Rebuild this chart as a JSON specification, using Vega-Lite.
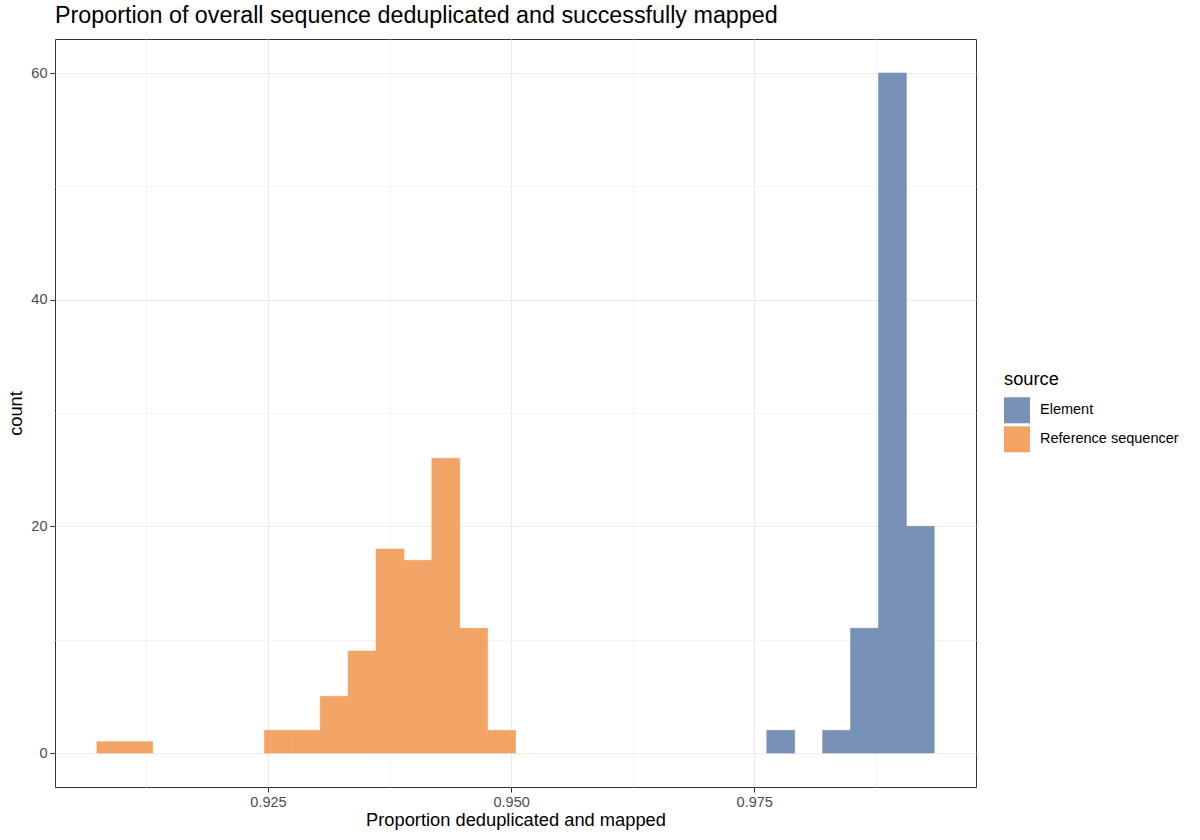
{
  "$schema": "https://vega.github.io/schema/vega-lite/v6.json",
  "width": 921,
  "height": 748,
  "autosize": "none",
  "padding": {"left": 55, "top": 39, "right": 224, "bottom": 53},
  "background": "white",
  "title": {
    "text": "Proportion of overall sequence deduplicated and successfully mapped",
    "anchor": "start",
    "frame": "group",
    "font": "Liberation Sans",
    "fontSize": 23.3,
    "fontWeight": "normal",
    "color": "black",
    "offset": 11
  },
  "data": {
    "values": [
      {"source": "Reference sequencer", "start": 0.90741, "end": 0.91028, "count": 1},
      {"source": "Reference sequencer", "start": 0.91028, "end": 0.91315, "count": 1},
      {"source": "Reference sequencer", "start": 0.92463, "end": 0.92750, "count": 2},
      {"source": "Reference sequencer", "start": 0.92750, "end": 0.93037, "count": 2},
      {"source": "Reference sequencer", "start": 0.93037, "end": 0.93324, "count": 5},
      {"source": "Reference sequencer", "start": 0.93324, "end": 0.93611, "count": 9},
      {"source": "Reference sequencer", "start": 0.93611, "end": 0.93898, "count": 18},
      {"source": "Reference sequencer", "start": 0.93898, "end": 0.94185, "count": 17},
      {"source": "Reference sequencer", "start": 0.94185, "end": 0.94472, "count": 26},
      {"source": "Reference sequencer", "start": 0.94472, "end": 0.94759, "count": 11},
      {"source": "Reference sequencer", "start": 0.94759, "end": 0.95046, "count": 2},
      {"source": "Element", "start": 0.97629, "end": 0.97916, "count": 2},
      {"source": "Element", "start": 0.98203, "end": 0.98490, "count": 2},
      {"source": "Element", "start": 0.98490, "end": 0.98777, "count": 11},
      {"source": "Element", "start": 0.98777, "end": 0.99064, "count": 60},
      {"source": "Element", "start": 0.99064, "end": 0.99351, "count": 20}
    ]
  },
  "mark": {"type": "bar", "opacity": 1, "strokeWidth": 0.6},
  "encoding": {
    "x": {
      "field": "start",
      "type": "quantitative",
      "scale": {"domain": [0.9031, 0.9978], "nice": false, "zero": false},
      "axis": {
        "title": "Proportion deduplicated and mapped",
        "values": [0.9125, 0.925, 0.9375, 0.95, 0.9625, 0.975, 0.9875],
        "labelExpr": "round(datum.value * 1000) % 25 === 0 ? format(datum.value, '.3f') : ''",
        "tickOpacity": {"condition": {"test": "round(datum.value * 1000) % 25 === 0", "value": 1}, "value": 0},
        "gridColor": {"condition": {"test": "round(datum.value * 1000) % 25 === 0", "value": "#EBEBEB"}, "value": "#F3F3F3"},
        "gridWidth": {"condition": {"test": "round(datum.value * 1000) % 25 === 0", "value": 1.1}, "value": 0.8}
      }
    },
    "x2": {"field": "end"},
    "y": {
      "field": "count",
      "type": "quantitative",
      "scale": {"domain": [-3, 63], "nice": false, "zero": false},
      "axis": {
        "title": "count",
        "values": [0, 10, 20, 30, 40, 50, 60],
        "labelExpr": "datum.value % 20 === 0 ? datum.label : ''",
        "tickOpacity": {"condition": {"test": "datum.value % 20 === 0", "value": 1}, "value": 0},
        "gridColor": {"condition": {"test": "datum.value % 20 === 0", "value": "#EBEBEB"}, "value": "#F3F3F3"},
        "gridWidth": {"condition": {"test": "datum.value % 20 === 0", "value": 1.1}, "value": 0.8}
      }
    },
    "y2": {"datum": 0},
    "color": {
      "field": "source",
      "type": "nominal",
      "scale": {"domain": ["Element", "Reference sequencer"], "range": ["#7891B6", "#F1A465"]},
      "legend": {
        "title": "source",
        "orient": "none",
        "legendX": 949,
        "legendY": 332,
        "symbolType": "square",
        "symbolSize": 676,
        "symbolStrokeWidth": 0,
        "symbolOpacity": 1,
        "rowPadding": 3,
        "labelOffset": 10
      }
    },
    "stroke": {
      "field": "source",
      "type": "nominal",
      "scale": {"domain": ["Element", "Reference sequencer"], "range": ["#7891B6", "#F1A465"]},
      "legend": null
    }
  },
  "config": {
    "font": "Liberation Sans",
    "view": {"stroke": "#333333", "strokeWidth": 1},
    "axis": {
      "domain": false,
      "grid": true,
      "tickColor": "#333333",
      "tickSize": 5,
      "tickWidth": 1,
      "labelColor": "#4D4D4D",
      "labelFont": "Liberation Sans",
      "labelFontSize": 14.5,
      "labelPadding": 3,
      "titleFont": "Liberation Sans",
      "titleFontSize": 18.3,
      "titleFontWeight": "normal",
      "titleColor": "black"
    },
    "axisX": {"titlePadding": 3},
    "axisY": {"titlePadding": 5},
    "legend": {
      "titleFont": "Liberation Sans",
      "titleFontSize": 18.3,
      "titleFontWeight": "normal",
      "titleColor": "black",
      "titlePadding": 8,
      "labelFont": "Liberation Sans",
      "labelFontSize": 14.5,
      "labelColor": "black"
    }
  }
}
